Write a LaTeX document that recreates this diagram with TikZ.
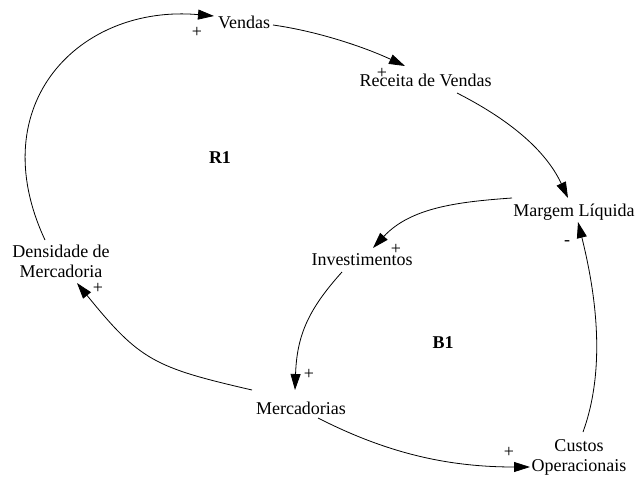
\documentclass[tikz,border=0pt]{standalone}
\usepackage{fontspec}
\setmainfont{Liberation Serif}
\usetikzlibrary{arrows.meta}
\tikzset{
  lbl/.style={font=\fontsize{18}{19.5}\selectfont, inner sep=0pt, anchor=base},
  pol/.style={font=\fontsize{18}{19.5}\selectfont, inner sep=0pt},
  loop/.style={font=\fontsize{18}{19.5}\selectfont\bfseries, inner sep=0pt},
  link/.style={line width=0.8pt, -{Triangle[length=16pt,width=10pt]}}
}
\begin{document}
\begin{tikzpicture}[x=1pt,y=1pt]
\useasboundingbox (0,0) rectangle (635,-477);
% variables
\node[lbl] (vendas) at (244,-28) {Vendas};
\node[lbl] (receita) at (425.5,-86) {Receita de Vendas};
\node[lbl] (margem) at (574,-216) {Margem Líquida};
\node[lbl] (invest) at (362,-265) {Investimentos};
\node[lbl, align=center] (dens) at (61,-277) {Densidade de\\Mercadoria};
\node[lbl] (merc) at (301,-414) {Mercadorias};
\node[lbl, align=center] (custos) at (579,-471) {Custos\\Operacionais};
% loop labels
\node[loop] (r1) at (220,-158) {R1};
\node[loop] (b1) at (443,-343) {B1};
% links
\draw[link] ([shift={(-16pt,37pt)}]dens.base) .. controls +(115:150pt) and +(175:135pt) .. ([shift={(-30pt,12pt)}]vendas.base);
\draw[link] ([shift={(29pt,3pt)}]vendas.base) .. controls +(-8:45pt) and +(155:45pt) .. ([shift={(-20.5pt,20pt)}]receita.base);
\draw[link] ([shift={(31.5pt,-7pt)}]receita.base) .. controls +(-27:55pt) and +(115:55pt) .. ([shift={(-6pt,18pt)}]margem.base);
\draw[link] ([shift={(-62pt,18pt)}]margem.base) .. controls +(184:55pt) and +(47:55pt) .. ([shift={(11pt,17pt)}]invest.base);
\draw[link] ([shift={(4pt,39pt)}]custos.base) .. controls +(70:70pt) and +(-76:70pt) .. ([shift={(4pt,-6pt)}]margem.base);
\draw[link] ([shift={(-20pt,-7pt)}]invest.base) .. controls +(228:50pt) and +(88:55pt) .. ([shift={(-6pt,24pt)}]merc.base);
\draw[link] ([shift={(-49pt,24pt)}]merc.base) .. controls +(167:100pt) and +(-51:100pt) .. ([shift={(16pt,-6pt)}]dens.base);
\draw[link] ([shift={(17pt,-4pt)}]merc.base) .. controls +(-27:80pt) and +(180:80pt) .. ([shift={(-49pt,4pt)}]custos.base);
% polarities
\node[pol] (p1) at (197,-32) {+};
\node[pol] (p2) at (382,-73) {+};
\node[pol] (p3) at (396,-249) {+};
\node[pol] (p4) at (567,-243) {-};
\node[pol] (p5) at (98,-288) {+};
\node[pol] (p6) at (309,-374) {+};
\node[pol] (p7) at (509,-452) {+};
\end{tikzpicture}
\end{document}
